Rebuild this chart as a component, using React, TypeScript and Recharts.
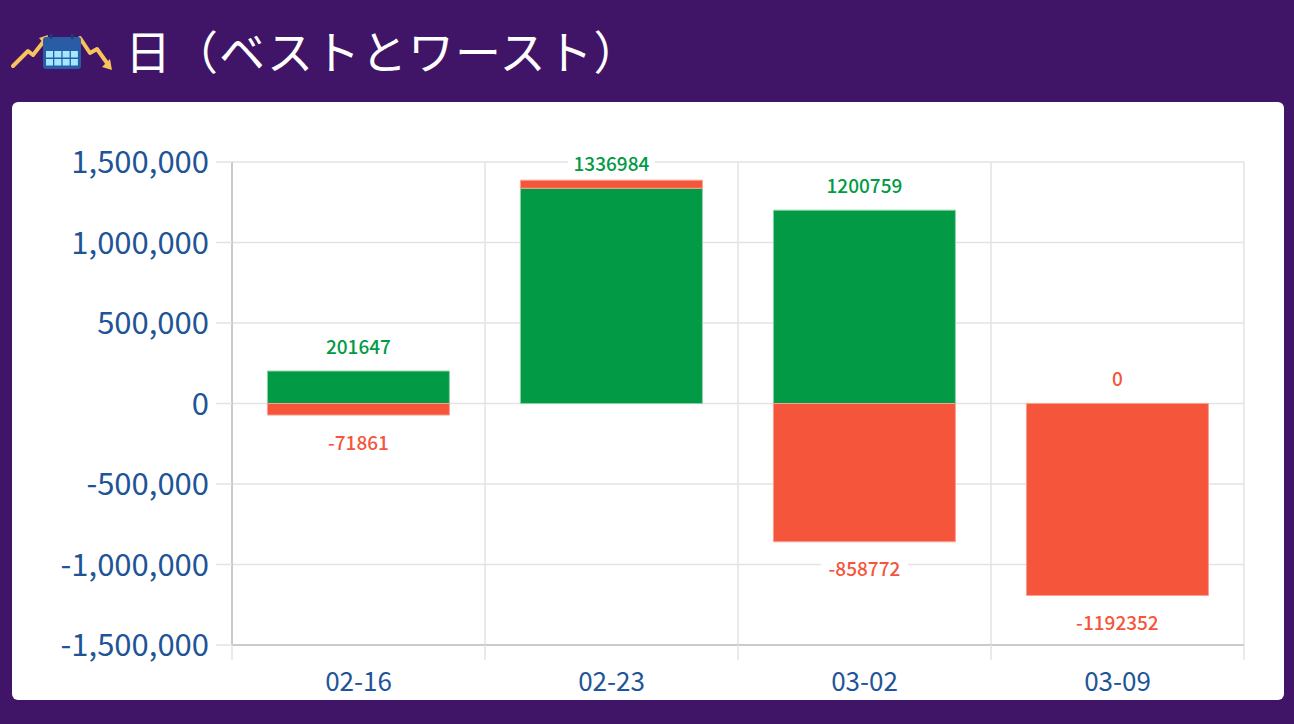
import React from 'react';
import { BarChart, Bar, XAxis, YAxis, CartesianGrid, LabelList } from 'recharts';

const dates = ['02-16', '02-23', '03-02', '03-09'];
const bestValues = [201647, 1336984, 1200759, 0];
const worstValues = [-71861, 50000, -858772, -1192352];
const yTicks = [-1500000, -1000000, -500000, 0, 500000, 1000000, 1500000];
const titleText = '日（ベストとワースト）';

const data = dates.map((d, i) => ({ date: d, best: bestValues[i], worst: worstValues[i] }));

const GREEN = '#029a45';
const RED = '#f5553b';
const BLUE = '#1f5597';
const PURPLE = '#401466';
const GRID = '#e3e3e3';
const AXIS = '#cacaca';
const FONT = '"Noto Sans CJK JP", "Noto Sans", sans-serif';

const geom = (props: any) => {
  const vb = props.viewBox || {};
  const x = props.x ?? vb.x;
  const y = props.y ?? vb.y;
  const width = props.width ?? vb.width;
  const height = props.height ?? vb.height;
  return { x: Number(x), y: Number(y), width: Number(width), height: Number(height) };
};

const LabelBox = ({ cx, cy, text, color }: { cx: number; cy: number; text: string; color: string }) => {
  const w = text.length * 11.5 + 6;
  return (
    <g>
      <rect x={cx - w / 2} y={cy - 11} width={w} height={22} fill="#ffffff" />
      <text
        x={cx}
        y={cy}
        textAnchor="middle"
        dominantBaseline="central"
        fill={color}
        fontSize={19}
        fontWeight={500}
        fontFamily={FONT}
      >
        {text}
      </text>
    </g>
  );
};

const BestLabel = (props: any) => {
  const { x, y, width, height } = geom(props);
  const v = props.value !== undefined && props.value !== null ? Number(props.value) : bestValues[props.index];
  const top = Math.min(y, y + height);
  return <LabelBox cx={x + width / 2} cy={top - 26} text={String(v)} color={v > 0 ? GREEN : RED} />;
};

const WorstLabel = (props: any) => {
  const { x, y, width, height } = geom(props);
  const v = props.value !== undefined && props.value !== null ? Number(props.value) : worstValues[props.index];
  const idx = worstValues.indexOf(v);
  const top = Math.min(y, y + height);
  const bottom = Math.max(y, y + height);
  const cx = x + width / 2;
  const zeroBest = idx >= 0 && bestValues[idx] === 0;
  return (
    <g>
      {zeroBest && v < 0 ? <LabelBox cx={cx} cy={top - 26} text={String(bestValues[idx])} color={RED} /> : null}
      {v < 0 ? <LabelBox cx={cx} cy={bottom + 26} text={String(v)} color={RED} /> : null}
    </g>
  );
};

const XTick = (props: any) => {
  const { x, y, payload, index, width, visibleTicksCount } = props;
  const count = visibleTicksCount || dates.length;
  const half = payload && typeof payload.offset === 'number' && payload.offset > 0 ? payload.offset : Number(width) / count / 2;
  const axisY = y - 28;
  return (
    <g>
      <line x1={x - half} x2={x - half} y1={axisY} y2={axisY + 15} stroke={GRID} strokeWidth={1.5} />
      {index === count - 1 ? (
        <line x1={x + half} x2={x + half} y1={axisY} y2={axisY + 15} stroke={GRID} strokeWidth={1.5} />
      ) : null}
      <text x={x} y={axisY + 46} textAnchor="middle" fill={BLUE} fontSize={26} fontFamily={FONT}>
        {payload.value}
      </text>
    </g>
  );
};

const Icon = () => (
  <svg width={110} height={44} viewBox="0 0 110 44" style={{ position: 'absolute', left: 4, top: 30 }}>
    <g transform="translate(-4,-30)">
      <polyline points="13,66 28,51 33,55 44,41" fill="none" stroke="#f7c35a" strokeWidth={4} strokeLinejoin="round" strokeLinecap="round" />
      <polygon points="48,35 39,38 46,46" fill="#f7c35a" />
      <polyline points="80,38 90,53 97,49 107,63" fill="none" stroke="#f7c35a" strokeWidth={4} strokeLinejoin="round" strokeLinecap="round" />
      <polygon points="112,70 102,67 110,59" fill="#f7c35a" />
      <rect x={43} y={37} width={38} height={32} rx={3} fill="#2a5ca6" />
      <rect x={50} y={34} width={2.5} height={5} fill="#1b3f7a" />
      <rect x={71} y={34} width={2.5} height={5} fill="#1b3f7a" />
      {[0, 1].map((r) =>
        [0, 1, 2, 3].map((c) => (
          <rect key={`${r}-${c}`} x={46 + c * 8.3} y={51 + r * 8} width={7} height={6.5} fill="#a4e8ff" />
        ))
      )}
    </g>
  </svg>
);

export default function App() {
  return (
    <div
      style={{
        position: 'absolute',
        left: 0,
        top: 0,
        width: 1294,
        height: 724,
        background: PURPLE,
        overflow: 'hidden',
        fontFamily: FONT,
      }}
    >
      <Icon />
      <div
        style={{
          position: 'absolute',
          left: 125,
          top: 19,
          fontSize: 46,
          letterSpacing: 1,
          lineHeight: '60px',
          color: '#ffffff',
          fontFamily: FONT,
          fontWeight: 400,
          whiteSpace: 'nowrap',
        }}
      >
        {titleText}
      </div>
      <div
        style={{
          position: 'absolute',
          left: 12,
          top: 102,
          width: 1272,
          height: 598,
          background: '#ffffff',
          borderRadius: 6,
        }}
      >
        <BarChart
          width={1272}
          height={598}
          data={data}
          stackOffset="sign"
          barCategoryGap="14%"
          margin={{ top: 60, right: 40, left: 0, bottom: 0 }}
        >
          <CartesianGrid
            stroke={GRID}
            strokeWidth={1.5}
            verticalCoordinatesGenerator={({ offset }: any) =>
              [0, 1, 2, 3, 4].map((i) => offset.left + (i * offset.width) / dates.length)
            }
          />
          <XAxis
            dataKey="date"
            tickLine={false}
            tickSize={0}
            tickMargin={28}
            axisLine={{ stroke: AXIS, strokeWidth: 2 }}
            tick={<XTick />}
            height={55}
            interval={0}
          />
          <YAxis
            domain={[-1500000, 1500000]}
            ticks={yTicks}
            allowDataOverflow
            tickFormatter={(v: number) => v.toLocaleString('en-US')}
            width={220}
            tickSize={16}
            tickMargin={7}
            axisLine={{ stroke: AXIS, strokeWidth: 2 }}
            tickLine={{ stroke: GRID, strokeWidth: 1.5 }}
            tick={{ fontSize: 31, fill: BLUE, fontFamily: FONT }}
          />
          <Bar dataKey="best" stackId="s" fill={GREEN} stroke="#8fd0a8" strokeWidth={1} isAnimationActive={false}>
            <LabelList dataKey="best" content={BestLabel} />
          </Bar>
          <Bar dataKey="worst" stackId="s" fill={RED} stroke="#f9a08f" strokeWidth={1} isAnimationActive={false}>
            <LabelList dataKey="worst" content={WorstLabel} />
          </Bar>
        </BarChart>
      </div>
    </div>
  );
}
